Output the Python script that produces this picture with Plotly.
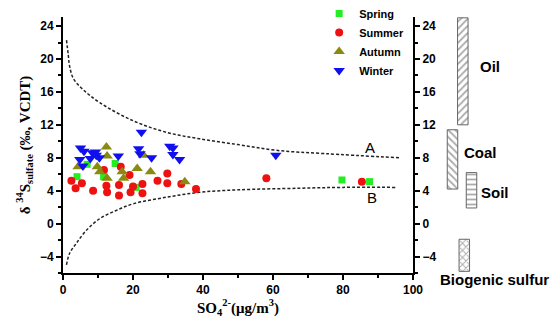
import plotly.graph_objects as go

# ---- data ----
spring_x = [4.0, 6.9, 11.6, 14.9, 20.9, 79.7, 87.6]
spring_y = [5.7, 7.2, 5.7, 7.3, 4.4, 5.3, 5.1]

summer_x = [2.4, 3.6, 5.4, 8.6, 11.7, 12.4, 12.6, 16.0, 16.0, 16.5, 19.0, 19.3, 20.0,
            22.7, 22.7, 27.0, 29.8, 29.8, 33.8, 38.0, 58.1, 85.4]
summer_y = [5.2, 4.3, 4.9, 4.0, 6.5, 4.6, 3.8, 4.7, 3.4, 6.9, 5.9, 3.8, 4.5,
            4.8, 3.7, 5.2, 6.1, 4.9, 4.8, 4.2, 5.5, 5.1]

autumn_x = [4.3, 9.8, 10.5, 12.4, 12.6, 12.6, 16.9, 17.3, 21.2, 23.0, 25.0, 34.8]
autumn_y = [6.9, 6.9, 6.3, 9.3, 8.2, 5.5, 6.3, 5.5, 6.7, 8.3, 6.3, 5.1]

winter_x = [5.0, 6.0, 4.8, 5.7, 7.8, 8.4, 9.3, 9.5, 10.4, 15.8, 22.4, 21.6, 22.0,
            25.3, 30.5, 31.4, 31.4, 33.3, 60.8]
winter_y = [9.2, 8.8, 7.8, 7.0, 7.9, 8.6, 8.7, 8.3, 8.0, 8.2, 11.1, 9.1, 8.5,
            8.0, 9.4, 9.2, 8.4, 7.8, 8.3]

# mixing curves
curveA_x = [1.0, 1.5, 1.9, 3.0, 5.7, 10.5, 20.0, 29.5, 39.0, 50.0, 61.0, 75.0, 96.0]
curveA_y = [22.3, 20.5, 19.1, 17.6, 16.3, 14.7, 12.5, 11.1, 10.3, 9.6, 8.9, 8.5, 8.0]
curveB_x = [1.0, 1.9, 3.8, 6.7, 10.5, 15.2, 20.0, 29.5, 39.0, 50.0, 67.6, 80.0, 95.0]
curveB_y = [-5.0, -3.6, -2.4, -0.8, 0.6, 1.6, 2.4, 3.2, 3.8, 4.1, 4.3, 4.4, 4.4]

sources = ["Oil", "Coal", "Soil", "Biogenic sulfur"]
src_low = [12.0, 4.2, 1.9, -5.8]
src_high = [25.0, 11.4, 6.2, -1.9]

y_ticks = [-4, 0, 4, 8, 12, 16, 20, 24]
x_ticks = [0, 20, 40, 60, 80, 100]

# ---- styling / layout positions ----
src_pos = [49.8, 39.5, 58.5, 51.3]
src_patterns = ["/", "\\", "-", "x"]
# (x on x2 axis, y in paper fraction)
src_label_pos = [(77, 0.805), (67, 0.471), (82, 0.315), (81, -0.025)]

SANS = "Liberation Sans, Arial"
SERIF = "Liberation Serif, Times New Roman"

fig = go.Figure()

for cx, cy in [(curveA_x, curveA_y), (curveB_x, curveB_y)]:
    fig.add_trace(go.Scatter(x=cx, y=cy, mode="lines",
                             line=dict(color="#222", width=1.5, dash="3px,2px", shape="spline"),
                             showlegend=False, hoverinfo="skip"))

fig.add_trace(go.Scatter(x=spring_x, y=spring_y, mode="markers", name="Spring",
                         marker=dict(symbol="square", size=7, color="#22ee22")))
fig.add_trace(go.Scatter(x=summer_x, y=summer_y, mode="markers", name="Summer",
                         marker=dict(symbol="circle", size=8, color="#ee1111")))
fig.add_trace(go.Scatter(x=autumn_x, y=autumn_y, mode="markers", name="Autumn",
                         marker=dict(symbol="triangle-up", size=10, color="#8a8a10")))
fig.add_trace(go.Scatter(x=winter_x, y=winter_y, mode="markers", name="Winter",
                         marker=dict(symbol="triangle-down", size=10, color="#1010ee")))

fig.add_trace(go.Bar(x=src_pos, y=[h - l for h, l in zip(src_high, src_low)], base=src_low,
                     width=10.5, xaxis="x2", yaxis="y", showlegend=False,
                     marker=dict(color="white", line=dict(color="#666", width=1),
                                 pattern=dict(shape=src_patterns, fgcolor="#555", size=5, solidity=0.35))))

for name, (lx, ly) in zip(sources, src_label_pos):
    fig.add_annotation(x=lx, y=ly, xref="x2", yref="paper", text=name, showarrow=False,
                       xanchor="center", yanchor="middle",
                       font=dict(family=SANS, size=15, color="black", weight="bold"))

fig.add_annotation(x=87.6, y=9.3, xref="x", yref="y", text="A", showarrow=False,
                   font=dict(family=SANS, size=15, color="black"))
fig.add_annotation(x=88.2, y=3.2, xref="x", yref="y", text="B", showarrow=False,
                   font=dict(family=SANS, size=15, color="black"))

tickfont = dict(family=SANS, size=12, color="black", weight="bold")
xdom = 350 / 487

fig.update_layout(
    width=552, height=328,
    margin=dict(l=63, r=2, t=17, b=55, autoexpand=False),
    plot_bgcolor="white", paper_bgcolor="white",
    xaxis=dict(domain=[0, xdom], range=[0, 100], tickvals=x_ticks, showline=True, linecolor="black", linewidth=2,
               ticks="outside", ticklen=5, tickwidth=1.5, tickcolor="black",
               minor=dict(dtick=10, ticks="outside", ticklen=3, tickcolor="black"),
               showgrid=False, zeroline=False, tickfont=tickfont, automargin=False,
               title=dict(text="SO<sub>4</sub><sup>2-</sup>(μg/m<sup>3</sup>)", standoff=3,
                          font=dict(family=SERIF, size=15, color="black", weight="bold"))),
    xaxis2=dict(domain=[xdom, 1], range=[0, 137], visible=False, anchor="y"),
    yaxis=dict(range=[-6, 25.1], tickvals=y_ticks, showline=True, linecolor="black", linewidth=2,
               ticks="outside", ticklen=5, tickwidth=1.5, tickcolor="black",
               minor=dict(dtick=2, ticks="outside", ticklen=3, tickcolor="black"),
               showgrid=False, zeroline=False, tickfont=tickfont, anchor="x", automargin=False,
               title=dict(text="δ <sup>34</sup>S<sub>sulfate</sub> (‰, VCDT)", standoff=6,
                          font=dict(family=SERIF, size=15, color="black", weight="bold"))),
    yaxis2=dict(range=[-6, 25.1], tickvals=y_ticks, overlaying="y", side="right", anchor="x",
                showline=True, linecolor="black", linewidth=2,
                ticks="outside", ticklen=5, tickwidth=1.5, tickcolor="black",
                minor=dict(dtick=2, ticks="outside", ticklen=3, tickcolor="black"),
                showgrid=False, zeroline=False, tickfont=tickfont, automargin=False),
    legend=dict(x=0.526, y=1.07, xanchor="left", yanchor="top", bgcolor="rgba(0,0,0,0)",
                font=dict(family=SANS, size=11, color="black", weight="bold"),
                itemwidth=30, tracegroupgap=0),
    showlegend=True,
)

fig.add_trace(go.Scatter(x=[None], y=[None], yaxis="y2", showlegend=False))

fig.write_html("out.html", config={"displayModeBar": False},
               post_script="document.body.style.margin='0';document.body.style.overflow='hidden';")
